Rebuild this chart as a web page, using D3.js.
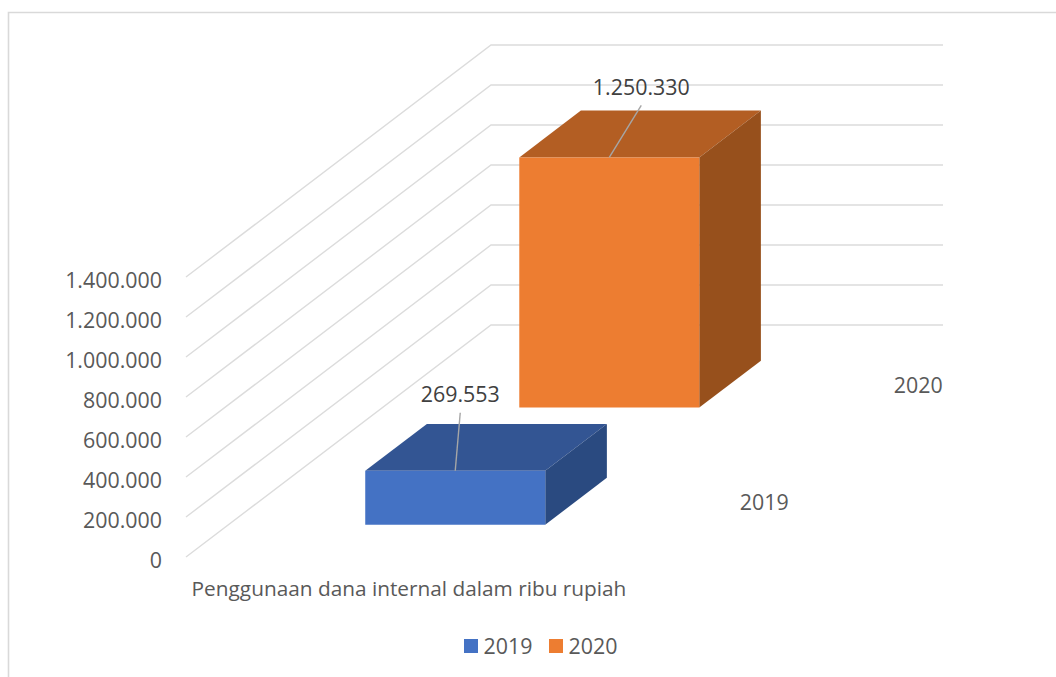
<!DOCTYPE html>
<html>
<head>
<meta charset="utf-8">
<script src="https://cdn.jsdelivr.net/npm/d3@7"></script>
<style>
  html, body { margin: 0; padding: 0; background: #fff; }
  svg { display: block; }
  text { font-family: "Open Sans", "Noto Sans", sans-serif; }
</style>
</head>
<body>
<div id="chart"></div>
<script>
// Internal fund usage by year, in thousands of rupiah
const category = "Penggunaan dana internal dalam ribu rupiah";
const years = ["2019", "2020"];
const values = [269553, 1250330];
const valueLabels = ["269.553", "1.250.330"];
const yTicks = [0, 200000, 400000, 600000, 800000, 1000000, 1200000, 1400000];
const yTickLabels = ["0", "200.000", "400.000", "600.000", "800.000", "1.000.000", "1.200.000", "1.400.000"];

const frontColors = ["#4472c4", "#ed7d31"];
const topColors = ["#335593", "#b35e23"];
const sideColors = ["#2a4a80", "#97501c"];

const W = 1056, H = 677;
const numberSize = 21.4;
const svg = d3.select("#chart").append("svg").attr("width", W).attr("height", H);

// Oblique projection: x along the floor, y upward, z running into the page
const origin = { x: 186, y: 557 };
const depth = { x: 305, y: -232 };
const xBand = d3.scaleBand().domain([category]).range([0.8, 452.8]).paddingInner(0).paddingOuter(0.7556);
const zBand = d3.scaleBand().domain(years).range([0, 1]).paddingInner(0.6).paddingOuter(0.29).align(0.475);
const yScale = d3.scaleLinear().domain([0, 1400000]).range([0, 280]);
const project = (x, v, z) => [origin.x + x + z * depth.x, origin.y - yScale(v) + z * depth.y];
const line = d3.line();
const poly = pts => line(pts) + "Z";

// Chart frame, open on the right and bottom
svg.append("path")
  .attr("d", "M8.5,677V12.5H1056")
  .attr("fill", "none").attr("stroke", "#d9d9d9").attr("stroke-width", 1.6);

// Wall and side gridlines
svg.append("g").selectAll("path").data(yTicks).join("path")
  .attr("d", t => line([project(0, t, 0), project(0, t, 1), project(452, t, 1)]))
  .attr("fill", "none").attr("stroke", "#dcdcdc").attr("stroke-width", 1.4);

// Value axis labels
svg.append("g").selectAll("text").data(yTicks).join("text")
  .attr("x", 162)
  .attr("y", t => origin.y - yScale(t) + 4)
  .attr("dy", "0.35em")
  .attr("text-anchor", "end")
  .attr("font-size", numberSize)
  .attr("fill", "#595959")
  .text((t, i) => yTickLabels[i]);

// Boxes, each drawn as top, side and front faces
const x0 = xBand(category), x1 = x0 + xBand.bandwidth();
const boxes = svg.append("g").selectAll("g").data(years).join("g");
boxes.each(function (yr, i) {
  const g = d3.select(this);
  const z0 = zBand(yr), z1 = z0 + zBand.bandwidth(), v = values[i];
  g.append("path").attr("fill", topColors[i])
    .attr("d", poly([project(x0, v, z0), project(x1, v, z0), project(x1, v, z1), project(x0, v, z1)]));
  g.append("path").attr("fill", sideColors[i])
    .attr("d", poly([project(x1, 0, z0), project(x1, v, z0), project(x1, v, z1), project(x1, 0, z1)]));
  g.append("path").attr("fill", frontColors[i])
    .attr("d", poly([project(x0, 0, z0), project(x1, 0, z0), project(x1, v, z0), project(x0, v, z0)]));

  // Leader line from the top edge up to the value label
  const anchor = project((x0 + x1) / 2, v, z0);
  const labelOffset = i === 0 ? [5, -58] : [32, -52];
  g.append("line")
    .attr("x1", anchor[0]).attr("y1", anchor[1])
    .attr("x2", anchor[0] + labelOffset[0]).attr("y2", anchor[1] + labelOffset[1])
    .attr("stroke", "#a6a6a6").attr("stroke-width", 1.4);
  g.append("text")
    .attr("x", anchor[0] + labelOffset[0])
    .attr("y", anchor[1] + labelOffset[1] - (i === 0 ? 11 : 10))
    .attr("text-anchor", "middle")
    .attr("font-size", numberSize)
    .attr("fill", "#404040")
    .text(valueLabels[i]);
});

// Depth axis labels for the series
svg.append("g").selectAll("text").data(years).join("text")
  .attr("text-anchor", "middle")
  .attr("x", yr => project(452, 0, zBand(yr) + zBand.bandwidth() / 2)[0] + 53)
  .attr("y", yr => project(452, 0, zBand(yr) + zBand.bandwidth() / 2)[1] + 1)
  .attr("dy", "0.35em")
  .attr("font-size", numberSize)
  .attr("fill", "#595959")
  .text(d => d);

// Category label along the front edge
svg.append("text")
  .attr("x", 409).attr("y", 596)
  .attr("text-anchor", "middle")
  .attr("font-size", 20.8)
  .attr("fill", "#595959")
  .text(category);

// Legend
const legendX = [464, 549];
const legend = svg.append("g").selectAll("g").data(years).join("g")
  .attr("transform", (d, i) => `translate(${legendX[i]},639)`);
legend.append("rect").attr("width", 14).attr("height", 14).attr("fill", (d, i) => frontColors[i]);
legend.append("text").attr("x", 19.5).attr("y", 14.5)
  .attr("font-size", numberSize).attr("fill", "#595959").text(d => d);
</script>
</body>
</html>
